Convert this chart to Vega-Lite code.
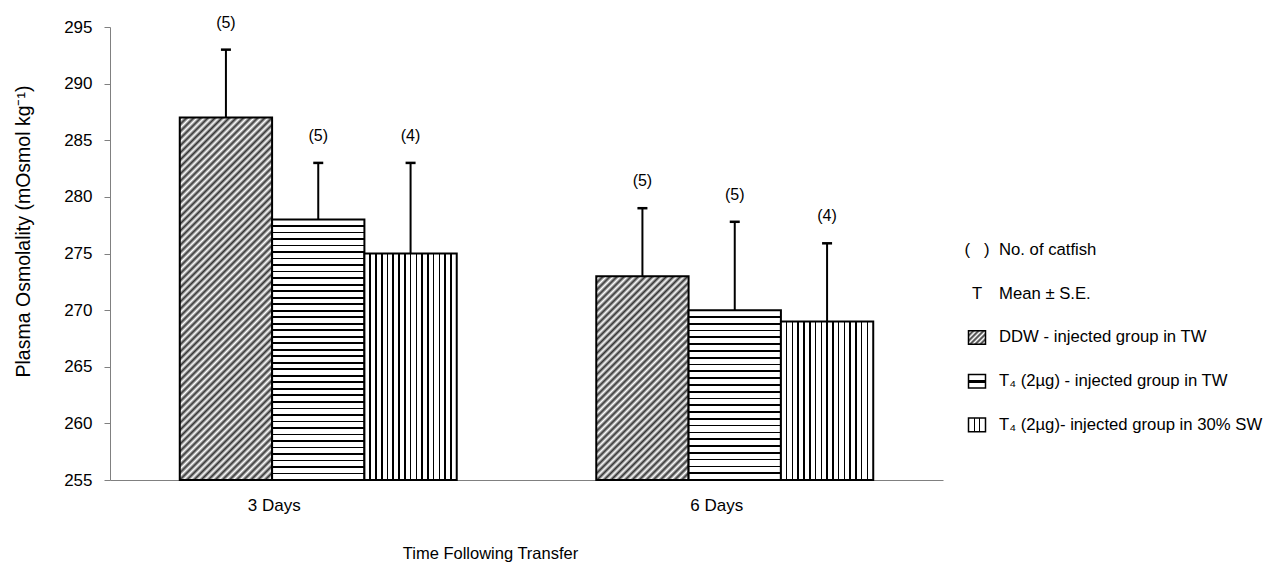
{
  "$schema": "https://vega.github.io/schema/vega-lite/v6.json",
  "background": "white",
  "padding": {"left": 13, "top": 14, "right": 5, "bottom": 0},
  "config": {
    "font": "Liberation Sans",
    "view": {"stroke": null},
    "axis": {"grid": false, "domainColor": "#808080", "tickColor": "#808080", "labelColor": "#000", "titleColor": "#000", "titleFontWeight": "normal", "domainWidth": 1}
  },
  "spacing": 21,
  "hconcat": [
    {
      "width": 833,
      "height": 453,
      "data": {"values": [
        {"day": "3 Days", "group": "DDW", "mean": 287, "hi": 293, "n": "(5)"},
        {"day": "3 Days", "group": "T4TW", "mean": 278, "hi": 283, "n": "(5)"},
        {"day": "3 Days", "group": "T4SW", "mean": 275, "hi": 283, "n": "(4)"},
        {"day": "6 Days", "group": "DDW", "mean": 273, "hi": 279, "n": "(5)"},
        {"day": "6 Days", "group": "T4TW", "mean": 270, "hi": 277.8, "n": "(5)"},
        {"day": "6 Days", "group": "T4SW", "mean": 269, "hi": 275.9, "n": "(4)"}
      ]},
      "encoding": {
        "x": {"field": "day", "type": "nominal", "scale": {"paddingInner": 0.335, "paddingOuter": 0.1675},
          "axis": {"title": "Time Following Transfer", "titleFontSize": 16.5, "titleX": 380, "titleY": 78, "titleBaseline": "alphabetic", "labelAngle": 0, "labelFontSize": 17, "labelPadding": 17, "ticks": false, "tickSize": 0,
            "labelOffset": {"condition": {"test": "datum.value === '3 Days'", "value": -44}, "value": -18}}},
        "xOffset": {"field": "group", "type": "nominal", "sort": ["DDW", "T4TW", "T4SW"], "scale": {"paddingInner": 0, "paddingOuter": 0}},
        "y": {"field": "mean", "type": "quantitative", "title": "Plasma Osmolality (mOsmol kg\u207b\u00b9)",
          "scale": {"domain": [255, 295], "zero": false, "nice": false},
          "axis": {"values": [255, 260, 265, 270, 275, 280, 285, 290, 295], "tickSize": 6, "labelPadding": 12, "labelFontSize": 17, "titleFontSize": 19.5, "titlePadding": 30, "titleY": 204}}
      },
      "layer": [
        {
          "mark": {"type": "bar", "stroke": "#000", "strokeWidth": 2},
          "encoding": {
            "y2": {"datum": 255},
            "fill": {
              "condition": [
                {"test": "datum.group === 'DDW' && datum.day === '3 Days'", "value": {"gradient": "linear", "x1": 0, "y1": 0, "x2": 0.3001, "y2": 1.1782, "stops": [{"offset":0,"color":"#333"},{"offset":0.0078,"color":"#fff"},{"offset":0.0156,"color":"#333"},{"offset":0.0234,"color":"#fff"},{"offset":0.0313,"color":"#333"},{"offset":0.0391,"color":"#fff"},{"offset":0.0469,"color":"#333"},{"offset":0.0547,"color":"#fff"},{"offset":0.0625,"color":"#333"},{"offset":0.0703,"color":"#fff"},{"offset":0.0781,"color":"#333"},{"offset":0.0859,"color":"#fff"},{"offset":0.0938,"color":"#333"},{"offset":0.1016,"color":"#fff"},{"offset":0.1094,"color":"#333"},{"offset":0.1172,"color":"#fff"},{"offset":0.125,"color":"#333"},{"offset":0.1328,"color":"#fff"},{"offset":0.1406,"color":"#333"},{"offset":0.1484,"color":"#fff"},{"offset":0.1563,"color":"#333"},{"offset":0.1641,"color":"#fff"},{"offset":0.1719,"color":"#333"},{"offset":0.1797,"color":"#fff"},{"offset":0.1875,"color":"#333"},{"offset":0.1953,"color":"#fff"},{"offset":0.2031,"color":"#333"},{"offset":0.2109,"color":"#fff"},{"offset":0.2188,"color":"#333"},{"offset":0.2266,"color":"#fff"},{"offset":0.2344,"color":"#333"},{"offset":0.2422,"color":"#fff"},{"offset":0.25,"color":"#333"},{"offset":0.2578,"color":"#fff"},{"offset":0.2656,"color":"#333"},{"offset":0.2734,"color":"#fff"},{"offset":0.2813,"color":"#333"},{"offset":0.2891,"color":"#fff"},{"offset":0.2969,"color":"#333"},{"offset":0.3047,"color":"#fff"},{"offset":0.3125,"color":"#333"},{"offset":0.3203,"color":"#fff"},{"offset":0.3281,"color":"#333"},{"offset":0.3359,"color":"#fff"},{"offset":0.3438,"color":"#333"},{"offset":0.3516,"color":"#fff"},{"offset":0.3594,"color":"#333"},{"offset":0.3672,"color":"#fff"},{"offset":0.375,"color":"#333"},{"offset":0.3828,"color":"#fff"},{"offset":0.3906,"color":"#333"},{"offset":0.3984,"color":"#fff"},{"offset":0.4063,"color":"#333"},{"offset":0.4141,"color":"#fff"},{"offset":0.4219,"color":"#333"},{"offset":0.4297,"color":"#fff"},{"offset":0.4375,"color":"#333"},{"offset":0.4453,"color":"#fff"},{"offset":0.4531,"color":"#333"},{"offset":0.4609,"color":"#fff"},{"offset":0.4688,"color":"#333"},{"offset":0.4766,"color":"#fff"},{"offset":0.4844,"color":"#333"},{"offset":0.4922,"color":"#fff"},{"offset":0.5,"color":"#333"},{"offset":0.5078,"color":"#fff"},{"offset":0.5156,"color":"#333"},{"offset":0.5234,"color":"#fff"},{"offset":0.5313,"color":"#333"},{"offset":0.5391,"color":"#fff"},{"offset":0.5469,"color":"#333"},{"offset":0.5547,"color":"#fff"},{"offset":0.5625,"color":"#333"},{"offset":0.5703,"color":"#fff"},{"offset":0.5781,"color":"#333"},{"offset":0.5859,"color":"#fff"},{"offset":0.5938,"color":"#333"},{"offset":0.6016,"color":"#fff"},{"offset":0.6094,"color":"#333"},{"offset":0.6172,"color":"#fff"},{"offset":0.625,"color":"#333"},{"offset":0.6328,"color":"#fff"},{"offset":0.6406,"color":"#333"},{"offset":0.6484,"color":"#fff"},{"offset":0.6563,"color":"#333"},{"offset":0.6641,"color":"#fff"},{"offset":0.6719,"color":"#333"},{"offset":0.6797,"color":"#fff"},{"offset":0.6875,"color":"#333"},{"offset":0.6953,"color":"#fff"},{"offset":0.7031,"color":"#333"},{"offset":0.7109,"color":"#fff"},{"offset":0.7188,"color":"#333"},{"offset":0.7266,"color":"#fff"},{"offset":0.7344,"color":"#333"},{"offset":0.7422,"color":"#fff"},{"offset":0.75,"color":"#333"},{"offset":0.7578,"color":"#fff"},{"offset":0.7656,"color":"#333"},{"offset":0.7734,"color":"#fff"},{"offset":0.7813,"color":"#333"},{"offset":0.7891,"color":"#fff"},{"offset":0.7969,"color":"#333"},{"offset":0.8047,"color":"#fff"},{"offset":0.8125,"color":"#333"},{"offset":0.8203,"color":"#fff"},{"offset":0.8281,"color":"#333"},{"offset":0.8359,"color":"#fff"},{"offset":0.8438,"color":"#333"},{"offset":0.8516,"color":"#fff"},{"offset":0.8594,"color":"#333"},{"offset":0.8672,"color":"#fff"},{"offset":0.875,"color":"#333"},{"offset":0.8828,"color":"#fff"},{"offset":0.8906,"color":"#333"},{"offset":0.8984,"color":"#fff"},{"offset":0.9063,"color":"#333"},{"offset":0.9141,"color":"#fff"},{"offset":0.9219,"color":"#333"},{"offset":0.9297,"color":"#fff"},{"offset":0.9375,"color":"#333"},{"offset":0.9453,"color":"#fff"},{"offset":0.9531,"color":"#333"},{"offset":0.9609,"color":"#fff"},{"offset":0.9688,"color":"#333"},{"offset":0.9766,"color":"#fff"},{"offset":0.9844,"color":"#333"},{"offset":0.9922,"color":"#fff"},{"offset":1,"color":"#333"}]}},
                {"test": "datum.group === 'DDW'", "value": {"gradient": "linear", "x1": 0, "y1": 0, "x2": 0.5458, "y2": 1.2057, "stops": [{"offset":0,"color":"#333"},{"offset":0.0119,"color":"#fff"},{"offset":0.0238,"color":"#333"},{"offset":0.0357,"color":"#fff"},{"offset":0.0476,"color":"#333"},{"offset":0.0595,"color":"#fff"},{"offset":0.0714,"color":"#333"},{"offset":0.0833,"color":"#fff"},{"offset":0.0952,"color":"#333"},{"offset":0.1071,"color":"#fff"},{"offset":0.119,"color":"#333"},{"offset":0.131,"color":"#fff"},{"offset":0.1429,"color":"#333"},{"offset":0.1548,"color":"#fff"},{"offset":0.1667,"color":"#333"},{"offset":0.1786,"color":"#fff"},{"offset":0.1905,"color":"#333"},{"offset":0.2024,"color":"#fff"},{"offset":0.2143,"color":"#333"},{"offset":0.2262,"color":"#fff"},{"offset":0.2381,"color":"#333"},{"offset":0.25,"color":"#fff"},{"offset":0.2619,"color":"#333"},{"offset":0.2738,"color":"#fff"},{"offset":0.2857,"color":"#333"},{"offset":0.2976,"color":"#fff"},{"offset":0.3095,"color":"#333"},{"offset":0.3214,"color":"#fff"},{"offset":0.3333,"color":"#333"},{"offset":0.3452,"color":"#fff"},{"offset":0.3571,"color":"#333"},{"offset":0.369,"color":"#fff"},{"offset":0.381,"color":"#333"},{"offset":0.3929,"color":"#fff"},{"offset":0.4048,"color":"#333"},{"offset":0.4167,"color":"#fff"},{"offset":0.4286,"color":"#333"},{"offset":0.4405,"color":"#fff"},{"offset":0.4524,"color":"#333"},{"offset":0.4643,"color":"#fff"},{"offset":0.4762,"color":"#333"},{"offset":0.4881,"color":"#fff"},{"offset":0.5,"color":"#333"},{"offset":0.5119,"color":"#fff"},{"offset":0.5238,"color":"#333"},{"offset":0.5357,"color":"#fff"},{"offset":0.5476,"color":"#333"},{"offset":0.5595,"color":"#fff"},{"offset":0.5714,"color":"#333"},{"offset":0.5833,"color":"#fff"},{"offset":0.5952,"color":"#333"},{"offset":0.6071,"color":"#fff"},{"offset":0.619,"color":"#333"},{"offset":0.631,"color":"#fff"},{"offset":0.6429,"color":"#333"},{"offset":0.6548,"color":"#fff"},{"offset":0.6667,"color":"#333"},{"offset":0.6786,"color":"#fff"},{"offset":0.6905,"color":"#333"},{"offset":0.7024,"color":"#fff"},{"offset":0.7143,"color":"#333"},{"offset":0.7262,"color":"#fff"},{"offset":0.7381,"color":"#333"},{"offset":0.75,"color":"#fff"},{"offset":0.7619,"color":"#333"},{"offset":0.7738,"color":"#fff"},{"offset":0.7857,"color":"#333"},{"offset":0.7976,"color":"#fff"},{"offset":0.8095,"color":"#333"},{"offset":0.8214,"color":"#fff"},{"offset":0.8333,"color":"#333"},{"offset":0.8452,"color":"#fff"},{"offset":0.8571,"color":"#333"},{"offset":0.869,"color":"#fff"},{"offset":0.881,"color":"#333"},{"offset":0.8929,"color":"#fff"},{"offset":0.9048,"color":"#333"},{"offset":0.9167,"color":"#fff"},{"offset":0.9286,"color":"#333"},{"offset":0.9405,"color":"#fff"},{"offset":0.9524,"color":"#333"},{"offset":0.9643,"color":"#fff"},{"offset":0.9762,"color":"#333"},{"offset":0.9881,"color":"#fff"},{"offset":1,"color":"#333"}]}},
                {"test": "datum.group === 'T4TW' && datum.day === '3 Days'", "value": {"gradient": "linear", "x1": 0, "y1": 0, "x2": 0, "y2": 1, "stops": [{"offset":0.0217,"color":"#fff"},{"offset":0.0217,"color":"#000"},{"offset":0.0283,"color":"#000"},{"offset":0.0283,"color":"#fff"},{"offset":0.0467,"color":"#fff"},{"offset":0.0467,"color":"#000"},{"offset":0.0533,"color":"#000"},{"offset":0.0533,"color":"#fff"},{"offset":0.0717,"color":"#fff"},{"offset":0.0717,"color":"#000"},{"offset":0.0783,"color":"#000"},{"offset":0.0783,"color":"#fff"},{"offset":0.0967,"color":"#fff"},{"offset":0.0967,"color":"#000"},{"offset":0.1033,"color":"#000"},{"offset":0.1033,"color":"#fff"},{"offset":0.1217,"color":"#fff"},{"offset":0.1217,"color":"#000"},{"offset":0.1283,"color":"#000"},{"offset":0.1283,"color":"#fff"},{"offset":0.1467,"color":"#fff"},{"offset":0.1467,"color":"#000"},{"offset":0.1533,"color":"#000"},{"offset":0.1533,"color":"#fff"},{"offset":0.1717,"color":"#fff"},{"offset":0.1717,"color":"#000"},{"offset":0.1783,"color":"#000"},{"offset":0.1783,"color":"#fff"},{"offset":0.1967,"color":"#fff"},{"offset":0.1967,"color":"#000"},{"offset":0.2033,"color":"#000"},{"offset":0.2033,"color":"#fff"},{"offset":0.2217,"color":"#fff"},{"offset":0.2217,"color":"#000"},{"offset":0.2283,"color":"#000"},{"offset":0.2283,"color":"#fff"},{"offset":0.2467,"color":"#fff"},{"offset":0.2467,"color":"#000"},{"offset":0.2533,"color":"#000"},{"offset":0.2533,"color":"#fff"},{"offset":0.2717,"color":"#fff"},{"offset":0.2717,"color":"#000"},{"offset":0.2783,"color":"#000"},{"offset":0.2783,"color":"#fff"},{"offset":0.2967,"color":"#fff"},{"offset":0.2967,"color":"#000"},{"offset":0.3033,"color":"#000"},{"offset":0.3033,"color":"#fff"},{"offset":0.3217,"color":"#fff"},{"offset":0.3217,"color":"#000"},{"offset":0.3283,"color":"#000"},{"offset":0.3283,"color":"#fff"},{"offset":0.3467,"color":"#fff"},{"offset":0.3467,"color":"#000"},{"offset":0.3533,"color":"#000"},{"offset":0.3533,"color":"#fff"},{"offset":0.3717,"color":"#fff"},{"offset":0.3717,"color":"#000"},{"offset":0.3783,"color":"#000"},{"offset":0.3783,"color":"#fff"},{"offset":0.3967,"color":"#fff"},{"offset":0.3967,"color":"#000"},{"offset":0.4033,"color":"#000"},{"offset":0.4033,"color":"#fff"},{"offset":0.4217,"color":"#fff"},{"offset":0.4217,"color":"#000"},{"offset":0.4283,"color":"#000"},{"offset":0.4283,"color":"#fff"},{"offset":0.4467,"color":"#fff"},{"offset":0.4467,"color":"#000"},{"offset":0.4533,"color":"#000"},{"offset":0.4533,"color":"#fff"},{"offset":0.4717,"color":"#fff"},{"offset":0.4717,"color":"#000"},{"offset":0.4783,"color":"#000"},{"offset":0.4783,"color":"#fff"},{"offset":0.4967,"color":"#fff"},{"offset":0.4967,"color":"#000"},{"offset":0.5033,"color":"#000"},{"offset":0.5033,"color":"#fff"},{"offset":0.5217,"color":"#fff"},{"offset":0.5217,"color":"#000"},{"offset":0.5283,"color":"#000"},{"offset":0.5283,"color":"#fff"},{"offset":0.5467,"color":"#fff"},{"offset":0.5467,"color":"#000"},{"offset":0.5533,"color":"#000"},{"offset":0.5533,"color":"#fff"},{"offset":0.5717,"color":"#fff"},{"offset":0.5717,"color":"#000"},{"offset":0.5783,"color":"#000"},{"offset":0.5783,"color":"#fff"},{"offset":0.5967,"color":"#fff"},{"offset":0.5967,"color":"#000"},{"offset":0.6033,"color":"#000"},{"offset":0.6033,"color":"#fff"},{"offset":0.6217,"color":"#fff"},{"offset":0.6217,"color":"#000"},{"offset":0.6283,"color":"#000"},{"offset":0.6283,"color":"#fff"},{"offset":0.6467,"color":"#fff"},{"offset":0.6467,"color":"#000"},{"offset":0.6533,"color":"#000"},{"offset":0.6533,"color":"#fff"},{"offset":0.6717,"color":"#fff"},{"offset":0.6717,"color":"#000"},{"offset":0.6783,"color":"#000"},{"offset":0.6783,"color":"#fff"},{"offset":0.6967,"color":"#fff"},{"offset":0.6967,"color":"#000"},{"offset":0.7033,"color":"#000"},{"offset":0.7033,"color":"#fff"},{"offset":0.7217,"color":"#fff"},{"offset":0.7217,"color":"#000"},{"offset":0.7283,"color":"#000"},{"offset":0.7283,"color":"#fff"},{"offset":0.7467,"color":"#fff"},{"offset":0.7467,"color":"#000"},{"offset":0.7533,"color":"#000"},{"offset":0.7533,"color":"#fff"},{"offset":0.7717,"color":"#fff"},{"offset":0.7717,"color":"#000"},{"offset":0.7783,"color":"#000"},{"offset":0.7783,"color":"#fff"},{"offset":0.7967,"color":"#fff"},{"offset":0.7967,"color":"#000"},{"offset":0.8033,"color":"#000"},{"offset":0.8033,"color":"#fff"},{"offset":0.8217,"color":"#fff"},{"offset":0.8217,"color":"#000"},{"offset":0.8283,"color":"#000"},{"offset":0.8283,"color":"#fff"},{"offset":0.8467,"color":"#fff"},{"offset":0.8467,"color":"#000"},{"offset":0.8533,"color":"#000"},{"offset":0.8533,"color":"#fff"},{"offset":0.8717,"color":"#fff"},{"offset":0.8717,"color":"#000"},{"offset":0.8783,"color":"#000"},{"offset":0.8783,"color":"#fff"},{"offset":0.8967,"color":"#fff"},{"offset":0.8967,"color":"#000"},{"offset":0.9033,"color":"#000"},{"offset":0.9033,"color":"#fff"},{"offset":0.9217,"color":"#fff"},{"offset":0.9217,"color":"#000"},{"offset":0.9283,"color":"#000"},{"offset":0.9283,"color":"#fff"},{"offset":0.9467,"color":"#fff"},{"offset":0.9467,"color":"#000"},{"offset":0.9533,"color":"#000"},{"offset":0.9533,"color":"#fff"},{"offset":0.9717,"color":"#fff"},{"offset":0.9717,"color":"#000"},{"offset":0.9783,"color":"#000"},{"offset":0.9783,"color":"#fff"}]}},
                {"test": "datum.group === 'T4TW'", "value": {"gradient": "linear", "x1": 0, "y1": 0, "x2": 0, "y2": 1, "stops": [{"offset":0.035,"color":"#fff"},{"offset":0.035,"color":"#000"},{"offset":0.045,"color":"#000"},{"offset":0.045,"color":"#fff"},{"offset":0.075,"color":"#fff"},{"offset":0.075,"color":"#000"},{"offset":0.085,"color":"#000"},{"offset":0.085,"color":"#fff"},{"offset":0.115,"color":"#fff"},{"offset":0.115,"color":"#000"},{"offset":0.125,"color":"#000"},{"offset":0.125,"color":"#fff"},{"offset":0.155,"color":"#fff"},{"offset":0.155,"color":"#000"},{"offset":0.165,"color":"#000"},{"offset":0.165,"color":"#fff"},{"offset":0.195,"color":"#fff"},{"offset":0.195,"color":"#000"},{"offset":0.205,"color":"#000"},{"offset":0.205,"color":"#fff"},{"offset":0.235,"color":"#fff"},{"offset":0.235,"color":"#000"},{"offset":0.245,"color":"#000"},{"offset":0.245,"color":"#fff"},{"offset":0.275,"color":"#fff"},{"offset":0.275,"color":"#000"},{"offset":0.285,"color":"#000"},{"offset":0.285,"color":"#fff"},{"offset":0.315,"color":"#fff"},{"offset":0.315,"color":"#000"},{"offset":0.325,"color":"#000"},{"offset":0.325,"color":"#fff"},{"offset":0.355,"color":"#fff"},{"offset":0.355,"color":"#000"},{"offset":0.365,"color":"#000"},{"offset":0.365,"color":"#fff"},{"offset":0.395,"color":"#fff"},{"offset":0.395,"color":"#000"},{"offset":0.405,"color":"#000"},{"offset":0.405,"color":"#fff"},{"offset":0.435,"color":"#fff"},{"offset":0.435,"color":"#000"},{"offset":0.445,"color":"#000"},{"offset":0.445,"color":"#fff"},{"offset":0.475,"color":"#fff"},{"offset":0.475,"color":"#000"},{"offset":0.485,"color":"#000"},{"offset":0.485,"color":"#fff"},{"offset":0.515,"color":"#fff"},{"offset":0.515,"color":"#000"},{"offset":0.525,"color":"#000"},{"offset":0.525,"color":"#fff"},{"offset":0.555,"color":"#fff"},{"offset":0.555,"color":"#000"},{"offset":0.565,"color":"#000"},{"offset":0.565,"color":"#fff"},{"offset":0.595,"color":"#fff"},{"offset":0.595,"color":"#000"},{"offset":0.605,"color":"#000"},{"offset":0.605,"color":"#fff"},{"offset":0.635,"color":"#fff"},{"offset":0.635,"color":"#000"},{"offset":0.645,"color":"#000"},{"offset":0.645,"color":"#fff"},{"offset":0.675,"color":"#fff"},{"offset":0.675,"color":"#000"},{"offset":0.685,"color":"#000"},{"offset":0.685,"color":"#fff"},{"offset":0.715,"color":"#fff"},{"offset":0.715,"color":"#000"},{"offset":0.725,"color":"#000"},{"offset":0.725,"color":"#fff"},{"offset":0.755,"color":"#fff"},{"offset":0.755,"color":"#000"},{"offset":0.765,"color":"#000"},{"offset":0.765,"color":"#fff"},{"offset":0.795,"color":"#fff"},{"offset":0.795,"color":"#000"},{"offset":0.805,"color":"#000"},{"offset":0.805,"color":"#fff"},{"offset":0.835,"color":"#fff"},{"offset":0.835,"color":"#000"},{"offset":0.845,"color":"#000"},{"offset":0.845,"color":"#fff"},{"offset":0.875,"color":"#fff"},{"offset":0.875,"color":"#000"},{"offset":0.885,"color":"#000"},{"offset":0.885,"color":"#fff"},{"offset":0.915,"color":"#fff"},{"offset":0.915,"color":"#000"},{"offset":0.925,"color":"#000"},{"offset":0.925,"color":"#fff"},{"offset":0.955,"color":"#fff"},{"offset":0.955,"color":"#000"},{"offset":0.965,"color":"#000"},{"offset":0.965,"color":"#fff"}]}}
              ],
              "value": {"gradient": "linear", "x1": 0, "y1": 0, "x2": 1, "y2": 0, "stops": [{"offset":0.0538,"color":"#fff"},{"offset":0.0538,"color":"#000"},{"offset":0.0712,"color":"#000"},{"offset":0.0712,"color":"#fff"},{"offset":0.1163,"color":"#fff"},{"offset":0.1163,"color":"#000"},{"offset":0.1337,"color":"#000"},{"offset":0.1337,"color":"#fff"},{"offset":0.1788,"color":"#fff"},{"offset":0.1788,"color":"#000"},{"offset":0.1962,"color":"#000"},{"offset":0.1962,"color":"#fff"},{"offset":0.2413,"color":"#fff"},{"offset":0.2413,"color":"#000"},{"offset":0.2587,"color":"#000"},{"offset":0.2587,"color":"#fff"},{"offset":0.3038,"color":"#fff"},{"offset":0.3038,"color":"#000"},{"offset":0.3212,"color":"#000"},{"offset":0.3212,"color":"#fff"},{"offset":0.3663,"color":"#fff"},{"offset":0.3663,"color":"#000"},{"offset":0.3837,"color":"#000"},{"offset":0.3837,"color":"#fff"},{"offset":0.4288,"color":"#fff"},{"offset":0.4288,"color":"#000"},{"offset":0.4462,"color":"#000"},{"offset":0.4462,"color":"#fff"},{"offset":0.4913,"color":"#fff"},{"offset":0.4913,"color":"#000"},{"offset":0.5087,"color":"#000"},{"offset":0.5087,"color":"#fff"},{"offset":0.5538,"color":"#fff"},{"offset":0.5538,"color":"#000"},{"offset":0.5712,"color":"#000"},{"offset":0.5712,"color":"#fff"},{"offset":0.6163,"color":"#fff"},{"offset":0.6163,"color":"#000"},{"offset":0.6337,"color":"#000"},{"offset":0.6337,"color":"#fff"},{"offset":0.6788,"color":"#fff"},{"offset":0.6788,"color":"#000"},{"offset":0.6962,"color":"#000"},{"offset":0.6962,"color":"#fff"},{"offset":0.7413,"color":"#fff"},{"offset":0.7413,"color":"#000"},{"offset":0.7587,"color":"#000"},{"offset":0.7587,"color":"#fff"},{"offset":0.8038,"color":"#fff"},{"offset":0.8038,"color":"#000"},{"offset":0.8212,"color":"#000"},{"offset":0.8212,"color":"#fff"},{"offset":0.8663,"color":"#fff"},{"offset":0.8663,"color":"#000"},{"offset":0.8837,"color":"#000"},{"offset":0.8837,"color":"#fff"},{"offset":0.9288,"color":"#fff"},{"offset":0.9288,"color":"#000"},{"offset":0.9462,"color":"#000"},{"offset":0.9462,"color":"#fff"}]}
            }
          }
        },
        {
          "mark": {"type": "rule", "color": "#000", "strokeWidth": 2},
          "encoding": {"y2": {"field": "hi"}}
        },
        {
          "mark": {"type": "tick", "color": "#000", "thickness": 2.5, "size": 10, "opacity": 1},
          "encoding": {"y": {"field": "hi", "type": "quantitative", "title": "Plasma Osmolality (mOsmol kg\u207b\u00b9)"}}
        },
        {
          "mark": {"type": "text", "dy": -27, "fontSize": 16, "baseline": "middle", "color": "#000"},
          "encoding": {"y": {"field": "hi", "type": "quantitative", "title": "Plasma Osmolality (mOsmol kg\u207b\u00b9)"}, "text": {"field": "n"}}
        }
      ]
    },
    {
      "width": 20,
      "height": 453,
      "data": {"values": [
        {"rank": 1, "kind": "text", "sym": "(\u00a0\u00a0\u00a0)", "label": "No. of catfish"},
        {"rank": 2, "kind": "text", "sym": "T", "label": "Mean \u00b1 S.E."},
        {"rank": 3, "kind": "DDW", "sym": "", "label": "DDW - injected group in TW"},
        {"rank": 4, "kind": "T4TW", "sym": "", "label": "T\u2084 (2\u00b5g) -  injected  group in TW"},
        {"rank": 5, "kind": "T4SW", "sym": "", "label": "T\u2084 (2\u00b5g)- injected group in 30% SW"}
      ]},
      "encoding": {
        "y": {"field": "rank", "type": "quantitative", "scale": {"domain": [-4.1, 6.26], "reverse": true, "nice": false, "zero": false}, "axis": null}
      },
      "layer": [
        {
          "transform": [{"filter": "datum.kind === 'text'"}],
          "mark": {"type": "text", "fontSize": 16.7, "align": "center", "baseline": "middle", "color": "#000"},
          "encoding": {"text": {"field": "sym"}}
        },
        {
          "transform": [{"filter": "datum.kind !== 'text'"}],
          "mark": {"type": "point", "shape": "M-1,-0.8H1V0.8H-1Z", "size": 289, "filled": true, "opacity": 1, "stroke": "#000", "strokeWidth": 1.5},
          "encoding": {
            "fill": {
              "condition": [
                {"test": "datum.kind === 'DDW'", "value": {"gradient": "linear", "x1": 0, "y1": 0, "x2": 1.0976, "y2": 0.878, "stops": [{"offset":0,"color":"#333"},{"offset":0.0833,"color":"#fff"},{"offset":0.1667,"color":"#333"},{"offset":0.25,"color":"#fff"},{"offset":0.3333,"color":"#333"},{"offset":0.4167,"color":"#fff"},{"offset":0.5,"color":"#333"},{"offset":0.5833,"color":"#fff"},{"offset":0.6667,"color":"#333"},{"offset":0.75,"color":"#fff"},{"offset":0.8333,"color":"#333"},{"offset":0.9167,"color":"#fff"},{"offset":1,"color":"#333"}]}},
                {"test": "datum.kind === 'T4TW'", "value": {"gradient": "linear", "x1": 0, "y1": 0, "x2": 0, "y2": 1, "stops": [{"offset":0.38,"color":"#fff"},{"offset":0.38,"color":"#000"},{"offset":0.62,"color":"#000"},{"offset":0.62,"color":"#fff"}]}}
              ],
              "value": {"gradient": "linear", "x1": 0, "y1": 0, "x2": 1, "y2": 0, "stops": [{"offset":0.3,"color":"#fff"},{"offset":0.3,"color":"#000"},{"offset":0.38,"color":"#000"},{"offset":0.38,"color":"#fff"},{"offset":0.62,"color":"#fff"},{"offset":0.62,"color":"#000"},{"offset":0.7,"color":"#000"},{"offset":0.7,"color":"#fff"}]}
            }
          }
        },
        {
          "mark": {"type": "text", "fontSize": 16.7, "align": "left", "baseline": "middle", "dx": 22, "color": "#000"},
          "encoding": {"text": {"field": "label"}}
        }
      ]
    }
  ]
}
